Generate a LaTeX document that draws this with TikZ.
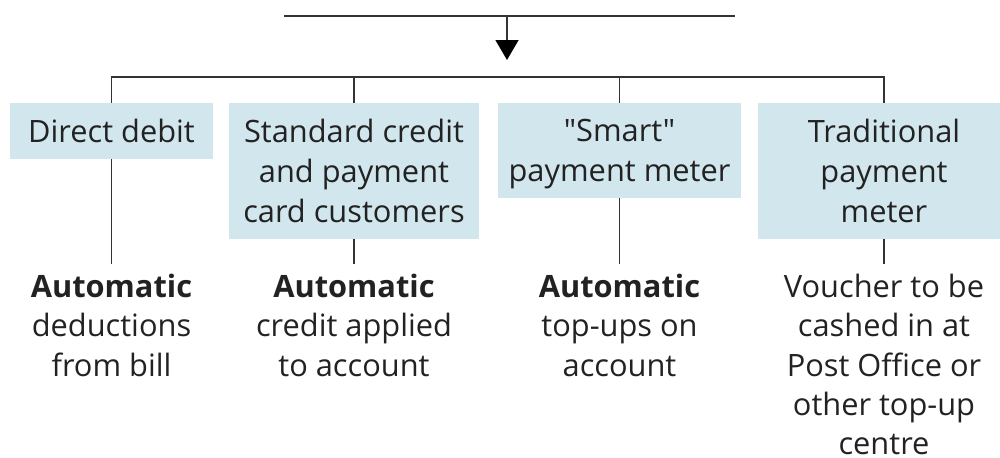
\documentclass[tikz,border=0pt]{standalone}
\usepackage{fontspec}
\setmainfont{Open Sans}[Ligatures=TeXOff]
\usepackage{xcolor}
\usetikzlibrary{arrows.meta}
\definecolor{boxblue}{HTML}{D2E6ED}
\definecolor{inkgray}{HTML}{222222}
\definecolor{rulegray}{HTML}{333333}
\tikzset{every node/.style={text=inkgray,font=\fontsize{21.9pt}{1cm}\selectfont},
 link/.style={draw=rulegray,line width=1.1pt},
 paybox/.style={fill=boxblue,anchor=north,align=center,inner xsep=0pt,
  inner ysep=0.4cm,text depth=0pt},
 outcome/.style={anchor=north,align=center,inner sep=0pt,
  font=\fontsize{21.9pt}{0.98cm}\selectfont},
 }

\begin{document}
\begin{tikzpicture}
    \useasboundingbox (0,0) rectangle (25,-11.425);
        \coordinate (rulel) at (7.1,-0.4);
        \coordinate (ruler) at (18.375,-0.4);
        \coordinate (stem) at (12.675,-0.4);
        \coordinate (tip) at (12.675,-1.5);
        \coordinate (bus) at (0,-1.925);
        \node[paybox,minimum width=5.075cm] (debit) at (2.7875,-2.575) {Direct debit};
        \node[paybox,minimum width=6.25cm] (credit) at (8.85,-2.575) {Standard credit\\and payment\\card customers};
        \node[paybox,minimum width=6.075cm] (smart) at (15.4875,-2.575) {"Smart"\\payment meter};
        \node[paybox,minimum width=6.3cm] (trad) at (22.1,-2.575) {Traditional\\payment\\meter};
        \node[outcome] (debitout) at (2.7875,-6.85) {\textbf{Automatic}\\deductions\\from bill};
        \node[outcome] (creditout) at (8.85,-6.85) {\textbf{Automatic}\\credit applied\\to account};
        \node[outcome] (smartout) at (15.4875,-6.85) {\textbf{Automatic}\\top-ups on\\account};
        \node[outcome] (tradout) at (22.1,-6.85) {Voucher to be\\cashed in at\\Post Office or\\other top-up\\centre};
        \draw[link] (rulel) -- (ruler);
        \draw[link,-{Triangle[width=0.575cm,length=0.5cm,color=black]}] (stem) -- (tip);
        \draw[link] (debit.north) -- (debit.north |- bus) -- (trad.north |- bus) -- (trad.north);
        \draw[link] (credit.north |- bus) -- (credit.north);
        \draw[link] (smart.north |- bus) -- (smart.north);
        \draw[link,shorten >=0.25cm] (debit.south) -- (debitout.north);
        \draw[link,shorten >=0.25cm] (credit.south) -- (creditout.north);
        \draw[link,shorten >=0.25cm] (smart.south) -- (smartout.north);
        \draw[link,shorten >=0.25cm] (trad.south) -- (tradout.north);
    \end{tikzpicture}
\end{document}
